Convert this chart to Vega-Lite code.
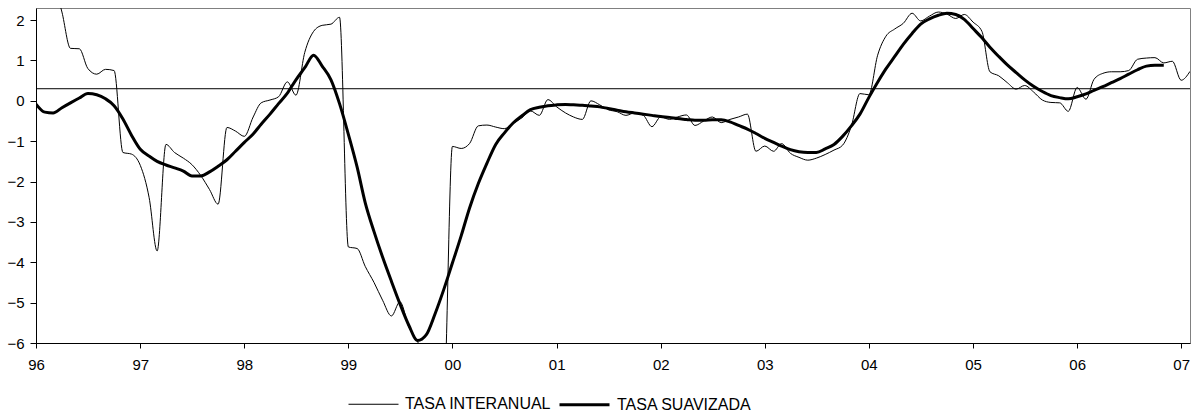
{
  "$schema": "https://vega.github.io/schema/vega-lite/v6.json",
  "width": 1154,
  "height": 335,
  "autosize": {"type": "none"},
  "padding": {"left": 36, "top": 8, "right": 7, "bottom": 73},
  "background": "white",
  "config": {
    "font": "Liberation Sans",
    "view": {"stroke": "#808080", "strokeWidth": 1},
    "axis": {"grid": false, "domainColor": "black", "tickColor": "black", "labelColor": "black", "labelFont": "Liberation Sans", "labelFontSize": 15, "labelFlush": false},
    "legend": {"orient": "none", "legendX": 312, "legendY": 370, "direction": "horizontal", "symbolType": "stroke", "symbolSize": 2500, "labelFontSize": 16, "labelFont": "Liberation Sans", "labelColor": "black", "labelOffset": 6, "columnPadding": 1, "padding": 0, "title": null, "labelLimit": 300}
  },
  "layer": [
    {
      "data": {"values": [{"ref": 0.3}]},
      "mark": {"type": "rule", "color": "black", "strokeWidth": 1},
      "encoding": {
        "y": {"field": "ref", "type": "quantitative", "scale": {"domain": [-6, 2.3], "nice": false}, "axis": {"title": null, "values": [-6, -5, -4, -3, -2, -1, 0, 1, 2], "tickSize": 6, "labelPadding": 6}}
      }
    },
    {
      "data": {"values": [
        {"d": "1996-01", "TASA INTERANUAL": 4.6, "TASA SUAVIZADA": -0.08},
        {"d": "1996-02", "TASA INTERANUAL": 3.8, "TASA SUAVIZADA": -0.28},
        {"d": "1996-03", "TASA INTERANUAL": 3.0, "TASA SUAVIZADA": -0.30},
        {"d": "1996-04", "TASA INTERANUAL": 2.2, "TASA SUAVIZADA": -0.17},
        {"d": "1996-05", "TASA INTERANUAL": 1.3, "TASA SUAVIZADA": -0.05},
        {"d": "1996-06", "TASA INTERANUAL": 1.29, "TASA SUAVIZADA": 0.07},
        {"d": "1996-07", "TASA INTERANUAL": 0.80, "TASA SUAVIZADA": 0.18},
        {"d": "1996-08", "TASA INTERANUAL": 0.66, "TASA SUAVIZADA": 0.15},
        {"d": "1996-09", "TASA INTERANUAL": 0.78, "TASA SUAVIZADA": 0.05},
        {"d": "1996-10", "TASA INTERANUAL": 0.75, "TASA SUAVIZADA": -0.12},
        {"d": "1996-11", "TASA INTERANUAL": -1.28, "TASA SUAVIZADA": -0.45},
        {"d": "1996-12", "TASA INTERANUAL": -1.32, "TASA SUAVIZADA": -0.85},
        {"d": "1997-01", "TASA INTERANUAL": -1.6, "TASA SUAVIZADA": -1.2},
        {"d": "1997-02", "TASA INTERANUAL": -2.4, "TASA SUAVIZADA": -1.37},
        {"d": "1997-03", "TASA INTERANUAL": -3.72, "TASA SUAVIZADA": -1.50},
        {"d": "1997-04", "TASA INTERANUAL": -1.08, "TASA SUAVIZADA": -1.59},
        {"d": "1997-05", "TASA INTERANUAL": -1.28, "TASA SUAVIZADA": -1.66},
        {"d": "1997-06", "TASA INTERANUAL": -1.42, "TASA SUAVIZADA": -1.74},
        {"d": "1997-07", "TASA INTERANUAL": -1.58, "TASA SUAVIZADA": -1.86},
        {"d": "1997-08", "TASA INTERANUAL": -1.85, "TASA SUAVIZADA": -1.86},
        {"d": "1997-09", "TASA INTERANUAL": -2.2, "TASA SUAVIZADA": -1.76},
        {"d": "1997-10", "TASA INTERANUAL": -2.56, "TASA SUAVIZADA": -1.62},
        {"d": "1997-11", "TASA INTERANUAL": -0.66, "TASA SUAVIZADA": -1.46},
        {"d": "1997-12", "TASA INTERANUAL": -0.75, "TASA SUAVIZADA": -1.25},
        {"d": "1998-01", "TASA INTERANUAL": -0.88, "TASA SUAVIZADA": -1.03},
        {"d": "1998-02", "TASA INTERANUAL": -0.40, "TASA SUAVIZADA": -0.82},
        {"d": "1998-03", "TASA INTERANUAL": -0.05, "TASA SUAVIZADA": -0.58},
        {"d": "1998-04", "TASA INTERANUAL": 0.02, "TASA SUAVIZADA": -0.33},
        {"d": "1998-05", "TASA INTERANUAL": 0.1, "TASA SUAVIZADA": -0.07},
        {"d": "1998-06", "TASA INTERANUAL": 0.47, "TASA SUAVIZADA": 0.19},
        {"d": "1998-07", "TASA INTERANUAL": 0.14, "TASA SUAVIZADA": 0.52},
        {"d": "1998-08", "TASA INTERANUAL": 1.2, "TASA SUAVIZADA": 0.82},
        {"d": "1998-09", "TASA INTERANUAL": 1.72, "TASA SUAVIZADA": 1.13},
        {"d": "1998-10", "TASA INTERANUAL": 1.87, "TASA SUAVIZADA": 0.86},
        {"d": "1998-11", "TASA INTERANUAL": 1.90, "TASA SUAVIZADA": 0.52},
        {"d": "1998-12", "TASA INTERANUAL": 2.07, "TASA SUAVIZADA": -0.07},
        {"d": "1999-01", "TASA INTERANUAL": -3.62, "TASA SUAVIZADA": -0.83},
        {"d": "1999-02", "TASA INTERANUAL": -3.66, "TASA SUAVIZADA": -1.65},
        {"d": "1999-03", "TASA INTERANUAL": -4.1, "TASA SUAVIZADA": -2.52},
        {"d": "1999-04", "TASA INTERANUAL": -4.5, "TASA SUAVIZADA": -3.24},
        {"d": "1999-05", "TASA INTERANUAL": -4.94, "TASA SUAVIZADA": -3.87},
        {"d": "1999-06", "TASA INTERANUAL": -5.33, "TASA SUAVIZADA": -4.47},
        {"d": "1999-07", "TASA INTERANUAL": -4.98, "TASA SUAVIZADA": -5.03},
        {"d": "1999-08", "TASA INTERANUAL": -5.6, "TASA SUAVIZADA": -5.56},
        {"d": "1999-09", "TASA INTERANUAL": -5.97, "TASA SUAVIZADA": -5.94},
        {"d": "1999-10", "TASA INTERANUAL": -6.4, "TASA SUAVIZADA": -5.80},
        {"d": "1999-11", "TASA INTERANUAL": -7.0, "TASA SUAVIZADA": -5.28},
        {"d": "1999-12", "TASA INTERANUAL": -7.5, "TASA SUAVIZADA": -4.69},
        {"d": "2000-01", "TASA INTERANUAL": -1.13, "TASA SUAVIZADA": -4.02},
        {"d": "2000-02", "TASA INTERANUAL": -1.18, "TASA SUAVIZADA": -3.34},
        {"d": "2000-03", "TASA INTERANUAL": -1.06, "TASA SUAVIZADA": -2.66},
        {"d": "2000-04", "TASA INTERANUAL": -0.62, "TASA SUAVIZADA": -2.05},
        {"d": "2000-05", "TASA INTERANUAL": -0.60, "TASA SUAVIZADA": -1.55},
        {"d": "2000-06", "TASA INTERANUAL": -0.65, "TASA SUAVIZADA": -1.08},
        {"d": "2000-07", "TASA INTERANUAL": -0.69, "TASA SUAVIZADA": -0.80},
        {"d": "2000-08", "TASA INTERANUAL": -0.56, "TASA SUAVIZADA": -0.55},
        {"d": "2000-09", "TASA INTERANUAL": -0.42, "TASA SUAVIZADA": -0.37},
        {"d": "2000-10", "TASA INTERANUAL": -0.25, "TASA SUAVIZADA": -0.22},
        {"d": "2000-11", "TASA INTERANUAL": -0.36, "TASA SUAVIZADA": -0.16},
        {"d": "2000-12", "TASA INTERANUAL": 0.03, "TASA SUAVIZADA": -0.12},
        {"d": "2001-01", "TASA INTERANUAL": -0.15, "TASA SUAVIZADA": -0.10},
        {"d": "2001-02", "TASA INTERANUAL": -0.30, "TASA SUAVIZADA": -0.09},
        {"d": "2001-03", "TASA INTERANUAL": -0.40, "TASA SUAVIZADA": -0.10},
        {"d": "2001-04", "TASA INTERANUAL": -0.46, "TASA SUAVIZADA": -0.11},
        {"d": "2001-05", "TASA INTERANUAL": 0.0, "TASA SUAVIZADA": -0.13},
        {"d": "2001-06", "TASA INTERANUAL": -0.10, "TASA SUAVIZADA": -0.15},
        {"d": "2001-07", "TASA INTERANUAL": -0.22, "TASA SUAVIZADA": -0.19},
        {"d": "2001-08", "TASA INTERANUAL": -0.27, "TASA SUAVIZADA": -0.23},
        {"d": "2001-09", "TASA INTERANUAL": -0.36, "TASA SUAVIZADA": -0.27},
        {"d": "2001-10", "TASA INTERANUAL": -0.30, "TASA SUAVIZADA": -0.30},
        {"d": "2001-11", "TASA INTERANUAL": -0.36, "TASA SUAVIZADA": -0.33},
        {"d": "2001-12", "TASA INTERANUAL": -0.64, "TASA SUAVIZADA": -0.36},
        {"d": "2002-01", "TASA INTERANUAL": -0.40, "TASA SUAVIZADA": -0.39},
        {"d": "2002-02", "TASA INTERANUAL": -0.46, "TASA SUAVIZADA": -0.41},
        {"d": "2002-03", "TASA INTERANUAL": -0.40, "TASA SUAVIZADA": -0.44},
        {"d": "2002-04", "TASA INTERANUAL": -0.35, "TASA SUAVIZADA": -0.46},
        {"d": "2002-05", "TASA INTERANUAL": -0.61, "TASA SUAVIZADA": -0.48},
        {"d": "2002-06", "TASA INTERANUAL": -0.50, "TASA SUAVIZADA": -0.48},
        {"d": "2002-07", "TASA INTERANUAL": -0.40, "TASA SUAVIZADA": -0.47},
        {"d": "2002-08", "TASA INTERANUAL": -0.54, "TASA SUAVIZADA": -0.47},
        {"d": "2002-09", "TASA INTERANUAL": -0.46, "TASA SUAVIZADA": -0.52},
        {"d": "2002-10", "TASA INTERANUAL": -0.40, "TASA SUAVIZADA": -0.61},
        {"d": "2002-11", "TASA INTERANUAL": -0.33, "TASA SUAVIZADA": -0.70},
        {"d": "2002-12", "TASA INTERANUAL": -1.25, "TASA SUAVIZADA": -0.81},
        {"d": "2003-01", "TASA INTERANUAL": -1.12, "TASA SUAVIZADA": -0.93},
        {"d": "2003-02", "TASA INTERANUAL": -1.25, "TASA SUAVIZADA": -1.03},
        {"d": "2003-03", "TASA INTERANUAL": -1.06, "TASA SUAVIZADA": -1.12},
        {"d": "2003-04", "TASA INTERANUAL": -1.30, "TASA SUAVIZADA": -1.21},
        {"d": "2003-05", "TASA INTERANUAL": -1.40, "TASA SUAVIZADA": -1.26},
        {"d": "2003-06", "TASA INTERANUAL": -1.47, "TASA SUAVIZADA": -1.28},
        {"d": "2003-07", "TASA INTERANUAL": -1.42, "TASA SUAVIZADA": -1.28},
        {"d": "2003-08", "TASA INTERANUAL": -1.33, "TASA SUAVIZADA": -1.19},
        {"d": "2003-09", "TASA INTERANUAL": -1.22, "TASA SUAVIZADA": -1.08},
        {"d": "2003-10", "TASA INTERANUAL": -1.10, "TASA SUAVIZADA": -0.88},
        {"d": "2003-11", "TASA INTERANUAL": -0.62, "TASA SUAVIZADA": -0.62},
        {"d": "2003-12", "TASA INTERANUAL": 0.18, "TASA SUAVIZADA": -0.33},
        {"d": "2004-01", "TASA INTERANUAL": 0.15, "TASA SUAVIZADA": 0.08},
        {"d": "2004-02", "TASA INTERANUAL": 1.13, "TASA SUAVIZADA": 0.46},
        {"d": "2004-03", "TASA INTERANUAL": 1.60, "TASA SUAVIZADA": 0.79},
        {"d": "2004-04", "TASA INTERANUAL": 1.78, "TASA SUAVIZADA": 1.10},
        {"d": "2004-05", "TASA INTERANUAL": 1.92, "TASA SUAVIZADA": 1.40},
        {"d": "2004-06", "TASA INTERANUAL": 2.17, "TASA SUAVIZADA": 1.67},
        {"d": "2004-07", "TASA INTERANUAL": 1.98, "TASA SUAVIZADA": 1.90},
        {"d": "2004-08", "TASA INTERANUAL": 2.10, "TASA SUAVIZADA": 2.03},
        {"d": "2004-09", "TASA INTERANUAL": 2.20, "TASA SUAVIZADA": 2.12},
        {"d": "2004-10", "TASA INTERANUAL": 2.15, "TASA SUAVIZADA": 2.17},
        {"d": "2004-11", "TASA INTERANUAL": 2.04, "TASA SUAVIZADA": 2.14},
        {"d": "2004-12", "TASA INTERANUAL": 2.14, "TASA SUAVIZADA": 2.02},
        {"d": "2005-01", "TASA INTERANUAL": 1.95, "TASA SUAVIZADA": 1.79},
        {"d": "2005-02", "TASA INTERANUAL": 1.72, "TASA SUAVIZADA": 1.56},
        {"d": "2005-03", "TASA INTERANUAL": 0.72, "TASA SUAVIZADA": 1.33},
        {"d": "2005-04", "TASA INTERANUAL": 0.62, "TASA SUAVIZADA": 1.10},
        {"d": "2005-05", "TASA INTERANUAL": 0.45, "TASA SUAVIZADA": 0.89},
        {"d": "2005-06", "TASA INTERANUAL": 0.29, "TASA SUAVIZADA": 0.70},
        {"d": "2005-07", "TASA INTERANUAL": 0.38, "TASA SUAVIZADA": 0.52},
        {"d": "2005-08", "TASA INTERANUAL": 0.22, "TASA SUAVIZADA": 0.36},
        {"d": "2005-09", "TASA INTERANUAL": 0.02, "TASA SUAVIZADA": 0.23},
        {"d": "2005-10", "TASA INTERANUAL": -0.04, "TASA SUAVIZADA": 0.13},
        {"d": "2005-11", "TASA INTERANUAL": -0.05, "TASA SUAVIZADA": 0.08},
        {"d": "2005-12", "TASA INTERANUAL": -0.26, "TASA SUAVIZADA": 0.05},
        {"d": "2006-01", "TASA INTERANUAL": 0.33, "TASA SUAVIZADA": 0.10},
        {"d": "2006-02", "TASA INTERANUAL": 0.04, "TASA SUAVIZADA": 0.17},
        {"d": "2006-03", "TASA INTERANUAL": 0.53, "TASA SUAVIZADA": 0.26},
        {"d": "2006-04", "TASA INTERANUAL": 0.68, "TASA SUAVIZADA": 0.35},
        {"d": "2006-05", "TASA INTERANUAL": 0.72, "TASA SUAVIZADA": 0.45},
        {"d": "2006-06", "TASA INTERANUAL": 0.72, "TASA SUAVIZADA": 0.55},
        {"d": "2006-07", "TASA INTERANUAL": 0.75, "TASA SUAVIZADA": 0.66},
        {"d": "2006-08", "TASA INTERANUAL": 1.03, "TASA SUAVIZADA": 0.77},
        {"d": "2006-09", "TASA INTERANUAL": 1.06, "TASA SUAVIZADA": 0.86},
        {"d": "2006-10", "TASA INTERANUAL": 1.07, "TASA SUAVIZADA": 0.88},
        {"d": "2006-11", "TASA INTERANUAL": 0.94, "TASA SUAVIZADA": 0.88},
        {"d": "2006-12", "TASA INTERANUAL": 0.98},
        {"d": "2007-01", "TASA INTERANUAL": 0.51},
        {"d": "2007-02", "TASA INTERANUAL": 0.73}
      ]},
      "transform": [{"fold": ["TASA INTERANUAL", "TASA SUAVIZADA"], "as": ["serie", "valor"]}],
      "mark": {"type": "line", "interpolate": "monotone", "clip": true, "strokeJoin": "round"},
      "encoding": {
        "x": {"field": "d", "type": "temporal", "scale": {"type": "utc", "domain": [{"year": 1996, "month": 1, "date": 1, "utc": true}, {"year": 2007, "month": 2, "date": 1, "utc": true}]},
          "axis": {"title": null, "labelExpr": "utcFormat(datum.value, '%y')", "tickSize": 5, "labelPadding": 9,
            "values": [{"year": 1996, "month": 1, "date": 1, "utc": true}, {"year": 1997, "month": 1, "date": 1, "utc": true}, {"year": 1998, "month": 1, "date": 1, "utc": true}, {"year": 1999, "month": 1, "date": 1, "utc": true}, {"year": 2000, "month": 1, "date": 1, "utc": true}, {"year": 2001, "month": 1, "date": 1, "utc": true}, {"year": 2002, "month": 1, "date": 1, "utc": true}, {"year": 2003, "month": 1, "date": 1, "utc": true}, {"year": 2004, "month": 1, "date": 1, "utc": true}, {"year": 2005, "month": 1, "date": 1, "utc": true}, {"year": 2006, "month": 1, "date": 1, "utc": true}, {"year": 2007, "month": 1, "date": 1, "utc": true}]}},
        "y": {"field": "valor", "type": "quantitative", "scale": {"domain": [-6, 2.3], "nice": false}, "axis": {"title": null, "values": [-6, -5, -4, -3, -2, -1, 0, 1, 2], "tickSize": 6, "labelPadding": 6}},
        "color": {"field": "serie", "type": "ordinal", "scale": {"range": ["black", "black"]}, "legend": {"title": null}},
        "strokeWidth": {"field": "serie", "type": "ordinal", "scale": {"range": [1, 3]}, "legend": {"title": null}}
      }
    }
  ]
}
